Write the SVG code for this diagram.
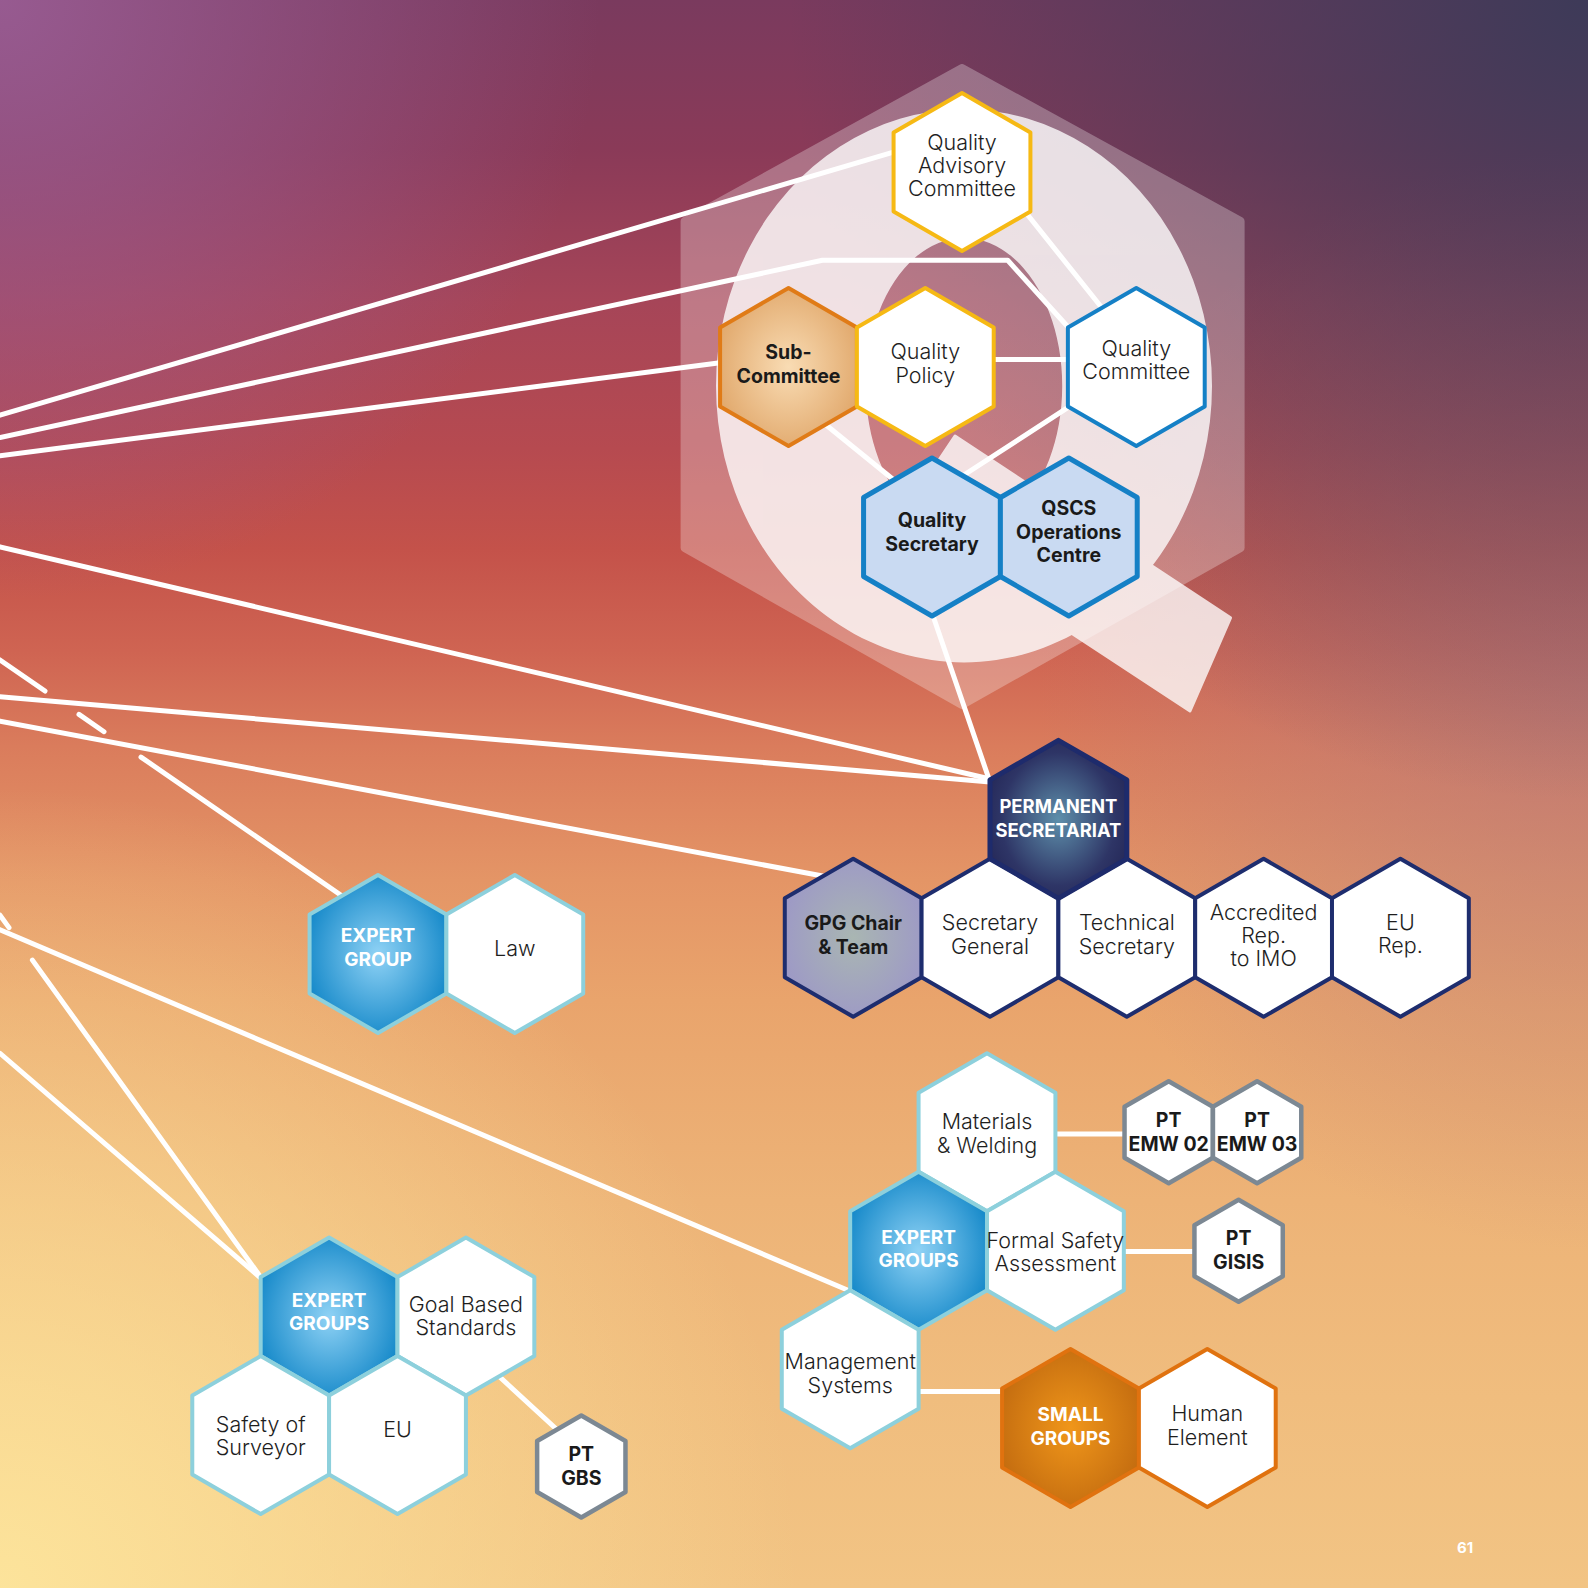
<svg xmlns="http://www.w3.org/2000/svg" xmlns:xlink="http://www.w3.org/1999/xlink" width="1588" height="1588" viewBox="0 0 1588 1588">
<defs>
<linearGradient id="bgBase" x1="0" y1="0" x2="0" y2="1">
<stop offset="0" stop-color="#7A3A5E"/>
<stop offset="0.094" stop-color="#8A3A58"/>
<stop offset="0.19" stop-color="#A64558"/>
<stop offset="0.283" stop-color="#B64A50"/>
<stop offset="0.346" stop-color="#C4524A"/>
<stop offset="0.41" stop-color="#CF6452"/>
<stop offset="0.47" stop-color="#DA7C5C"/>
<stop offset="0.554" stop-color="#E49566"/>
<stop offset="0.63" stop-color="#E9A46C"/>
<stop offset="0.756" stop-color="#EDB377"/>
<stop offset="0.88" stop-color="#F0BD7E"/>
<stop offset="1" stop-color="#F2C484"/>
</linearGradient>
<radialGradient id="bgTL" cx="0" cy="0" r="600" gradientUnits="userSpaceOnUse">
<stop offset="0" stop-color="#9A5E96" stop-opacity="0.9"/>
<stop offset="1" stop-color="#9A5E96" stop-opacity="0"/>
</radialGradient>
<radialGradient id="bgTR" cx="1588" cy="0" r="800" gradientUnits="userSpaceOnUse">
<stop offset="0" stop-color="#3A3A58" stop-opacity="0.95"/>
<stop offset="1" stop-color="#3A3A58" stop-opacity="0"/>
</radialGradient>
<radialGradient id="bgBL" cx="0" cy="1588" r="800" gradientUnits="userSpaceOnUse">
<stop offset="0" stop-color="#FDE59C" stop-opacity="0.95"/>
<stop offset="1" stop-color="#FDE59C" stop-opacity="0"/>
</radialGradient>
<radialGradient id="bgR" cx="1588" cy="700" r="550" gradientUnits="userSpaceOnUse">
<stop offset="0" stop-color="#B27A80" stop-opacity="0.6"/>
<stop offset="1" stop-color="#B27A80" stop-opacity="0"/>
</radialGradient>
<radialGradient id="gSub" cx="0.5" cy="0.5" r="0.6">
<stop offset="0" stop-color="#F9DCB4"/>
<stop offset="1" stop-color="#DFA466"/>
</radialGradient>
<radialGradient id="gPerm" cx="0.5" cy="0.5" r="0.6">
<stop offset="0" stop-color="#5E8FAA"/>
<stop offset="0.7" stop-color="#2E3566"/>
<stop offset="1" stop-color="#232656"/>
</radialGradient>
<radialGradient id="gGpg" cx="0.5" cy="0.5" r="0.6">
<stop offset="0" stop-color="#A9B6B2"/>
<stop offset="1" stop-color="#9C96C8"/>
</radialGradient>
<radialGradient id="gExpert" cx="0.5" cy="0.5" r="0.6">
<stop offset="0" stop-color="#8FD2F5"/>
<stop offset="1" stop-color="#0A82C5"/>
</radialGradient>
<radialGradient id="gSmall" cx="0.5" cy="0.5" r="0.6">
<stop offset="0" stop-color="#F0961A"/>
<stop offset="1" stop-color="#C0690F"/>
</radialGradient>
<path id="hex" d="M0,-79 L68.42,-39.5 L68.42,39.5 L0,79 L-68.42,39.5 L-68.42,-39.5 Z"/>
<path id="hexS" d="M0,-51 L44.17,-25.5 L44.17,25.5 L0,51 L-44.17,25.5 L-44.17,-25.5 Z"/>
<style>
.h{stroke-width:4;stroke-linejoin:round}
.gold{fill:#FFFFFF;stroke:#F6B914}
.sub{fill:url(#gSub);stroke:#E07B17}
.qblue{fill:#FFFFFF;stroke:#1580C6}
.qsec{fill:#C9DAF2;stroke:#1580C6;stroke-width:5}
.perm{fill:url(#gPerm);stroke:#1E2B6C;stroke-width:5}
.gpg{fill:url(#gGpg);stroke:#1E2D6E}
.navy{fill:#FFFFFF;stroke:#1E2D6E}
.exp{fill:url(#gExpert);stroke:#8DD0DC}
.lb{fill:#FFFFFF;stroke:#8DD0DC}
.small{fill:url(#gSmall);stroke:#E0720F}
.org{fill:#FFFFFF;stroke:#E0720F}
.pt{fill:#FFFFFF;stroke:#7C8893;stroke-width:4.5}
text{font-family:Inter,"Noto Sans","Liberation Sans",sans-serif;text-anchor:middle}
.t{font-size:21.5px;font-weight:300;fill:#1E1E1E}
.b{font-size:19.5px;font-weight:700;fill:#1A1A1A}
.w{font-size:19px;font-weight:700;fill:#FFFFFF}
.c{fill:none;stroke:#FFFFFF;stroke-width:5;stroke-linecap:round;stroke-linejoin:round}
</style>
</defs>
<g id="background">
<rect width="1588" height="1588" fill="url(#bgBase)"/>
<rect width="1588" height="1588" fill="url(#bgR)"/>
<rect width="1588" height="1588" fill="url(#bgTL)"/>
<rect width="1588" height="1588" fill="url(#bgTR)"/>
<rect width="1588" height="1588" fill="url(#bgBL)"/>
</g>
<g id="q-emblem">
<g opacity="0.28">
<polygon points="962,68 1240.6,221 1240.6,548 962,705 684.6,548 684.6,221" fill="#FFFFFF" stroke="#FFFFFF" stroke-width="8" stroke-linejoin="round"/>
</g>
<g opacity="0.78" fill="#FFFFFF">
<path fill-rule="evenodd" d="M964,109.4 a248,276.5 0 1,0 0.01,0 Z M964,237.9 a98.2,148 0 1,0 0.01,0 Z"/>
<polygon points="955,436 1230.5,617.8 1190,711 899,520" stroke="#FFFFFF" stroke-width="3" stroke-linejoin="round"/>
</g>
</g>
<g id="connectors">
<line class="c" x1="894.3" y1="151.9" x2="0" y2="415.2"/>
<polyline class="c" points="0,437.5 822.4,260.3 1007.7,260.3 1068,327"/>
<line class="c" x1="722" y1="362.6" x2="0" y2="455.7"/>
<line class="c" x1="1015" y1="199" x2="1110" y2="318"/>
<line class="c" x1="980" y1="359.5" x2="1080" y2="359.5"/>
<line class="c" x1="1080" y1="399.7" x2="950" y2="484"/>
<line class="c" x1="815" y1="416" x2="900" y2="485"/>
<line class="c" x1="931.7" y1="612" x2="990" y2="782"/>
<line class="c" x1="0" y1="546.9" x2="990" y2="779"/>
<line class="c" x1="0" y1="696.8" x2="990" y2="782"/>
<line class="c" x1="0" y1="721.1" x2="824" y2="876.3"/>
<line class="c" x1="0" y1="660" x2="45" y2="691"/>
<line class="c" x1="79" y1="714.4" x2="104" y2="731.7"/>
<line class="c" x1="141" y1="757.1" x2="345" y2="898"/>
<line class="c" x1="0" y1="929.7" x2="852" y2="1292"/>
<line class="c" x1="0" y1="915.1" x2="9" y2="927.6"/>
<line class="c" x1="32.4" y1="960.1" x2="262" y2="1279"/>
<line class="c" x1="0" y1="1053.3" x2="262" y2="1279"/>
<line class="c" x1="490" y1="1368" x2="565" y2="1437"/>
<line class="c" x1="1040" y1="1134" x2="1130" y2="1134"/>
<line class="c" x1="1100" y1="1251.5" x2="1210" y2="1251.5"/>
<line class="c" x1="900" y1="1391.5" x2="1020" y2="1391.5"/>
</g>
<g id="node-quality-advisory-committee" transform="translate(962,172)">
<use href="#hex" class="h gold"/>
<text class="t"><tspan x="0" y="-22">Quality</tspan><tspan x="0" y="1">Advisory</tspan><tspan x="0" y="24">Committee</tspan></text>
</g>
<g id="node-sub-committee" transform="translate(788.5,367)">
<use href="#hex" class="h sub"/>
<text class="b"><tspan x="0" y="-8">Sub-</tspan><tspan x="0" y="16">Committee</tspan></text>
</g>
<g id="node-quality-policy" transform="translate(925.3,367)">
<use href="#hex" class="h gold"/>
<text class="t"><tspan x="0" y="-8">Quality</tspan><tspan x="0" y="16">Policy</tspan></text>
</g>
<g id="node-quality-committee" transform="translate(1136.3,367)">
<use href="#hex" class="h qblue"/>
<text class="t"><tspan x="0" y="-11">Quality</tspan><tspan x="0" y="12">Committee</tspan></text>
</g>
<g id="node-quality-secretary" transform="translate(932,537)">
<use href="#hex" class="h qsec"/>
<text class="b"><tspan x="0" y="-10">Quality</tspan><tspan x="0" y="14">Secretary</tspan></text>
</g>
<g id="node-qscs-operations-centre" transform="translate(1068.8,537)">
<use href="#hex" class="h qsec"/>
<text class="b"><tspan x="0" y="-22">QSCS</tspan><tspan x="0" y="2">Operations</tspan><tspan x="0" y="25">Centre</tspan></text>
</g>
<g id="node-gpg-chair" transform="translate(853.2,937.8)">
<use href="#hex" class="h gpg"/>
<text class="b"><tspan x="0" y="-8">GPG Chair</tspan><tspan x="0" y="16">&amp; Team</tspan></text>
</g>
<g id="node-secretary-general" transform="translate(990,937.8)">
<use href="#hex" class="h navy"/>
<text class="t"><tspan x="0" y="-8">Secretary</tspan><tspan x="0" y="16">General</tspan></text>
</g>
<g id="node-technical-secretary" transform="translate(1126.8,937.8)">
<use href="#hex" class="h navy"/>
<text class="t"><tspan x="0" y="-8">Technical</tspan><tspan x="0" y="16">Secretary</tspan></text>
</g>
<g id="node-accredited-rep" transform="translate(1263.6,937.8)">
<use href="#hex" class="h navy"/>
<text class="t"><tspan x="0" y="-18">Accredited</tspan><tspan x="0" y="5">Rep.</tspan><tspan x="0" y="28">to IMO</tspan></text>
</g>
<g id="node-eu-rep" transform="translate(1400.4,937.8)">
<use href="#hex" class="h navy"/>
<text class="t"><tspan x="0" y="-8">EU</tspan><tspan x="0" y="15">Rep.</tspan></text>
</g>
<g id="node-permanent-secretariat" transform="translate(1058.4,819.3)">
<use href="#hex" class="h perm"/>
<text class="w"><tspan x="0" y="-6" textLength="118" lengthAdjust="spacingAndGlyphs">PERMANENT</tspan><tspan x="0" y="18" textLength="126" lengthAdjust="spacingAndGlyphs">SECRETARIAT</tspan></text>
</g>
<g id="node-expert-group-law" transform="translate(378,954)">
<use href="#hex" class="h exp"/>
<text class="w"><tspan x="0" y="-12">EXPERT</tspan><tspan x="0" y="12">GROUP</tspan></text>
</g>
<g id="node-law" transform="translate(514.8,954)">
<use href="#hex" class="h lb"/>
<text class="t" x="0" y="2">Law</text>
</g>
<g id="node-materials-welding" transform="translate(987,1132.3)">
<use href="#hex" class="h lb"/>
<text class="t"><tspan x="0" y="-3">Materials</tspan><tspan x="0" y="21">&amp; Welding</tspan></text>
</g>
<g id="node-expert-groups-right" transform="translate(918.6,1250.8)">
<use href="#hex" class="h exp"/>
<text class="w"><tspan x="0" y="-7">EXPERT</tspan><tspan x="0" y="16">GROUPS</tspan></text>
</g>
<g id="node-formal-safety-assessment" transform="translate(1055.4,1250.8)">
<use href="#hex" class="h lb"/>
<text class="t"><tspan x="0" y="-3">Formal Safety</tspan><tspan x="0" y="20">Assessment</tspan></text>
</g>
<g id="node-management-systems" transform="translate(850.2,1369.3)">
<use href="#hex" class="h lb"/>
<text class="t"><tspan x="0" y="0">Management</tspan><tspan x="0" y="24">Systems</tspan></text>
</g>
<g id="node-small-groups" transform="translate(1070.5,1428)">
<use href="#hex" class="h small"/>
<text class="w"><tspan x="0" y="-7">SMALL</tspan><tspan x="0" y="17">GROUPS</tspan></text>
</g>
<g id="node-human-element" transform="translate(1207.3,1428)">
<use href="#hex" class="h org"/>
<text class="t"><tspan x="0" y="-7">Human</tspan><tspan x="0" y="17">Element</tspan></text>
</g>
<g id="node-expert-groups-left" transform="translate(329.1,1316.6)">
<use href="#hex" class="h exp"/>
<text class="w"><tspan x="0" y="-10">EXPERT</tspan><tspan x="0" y="13">GROUPS</tspan></text>
</g>
<g id="node-goal-based-standards" transform="translate(465.9,1316.6)">
<use href="#hex" class="h lb"/>
<text class="t"><tspan x="0" y="-5">Goal Based</tspan><tspan x="0" y="18">Standards</tspan></text>
</g>
<g id="node-safety-of-surveyor" transform="translate(260.7,1435.1)">
<use href="#hex" class="h lb"/>
<text class="t"><tspan x="0" y="-3">Safety of</tspan><tspan x="0" y="20">Surveyor</tspan></text>
</g>
<g id="node-eu" transform="translate(397.5,1435.1)">
<use href="#hex" class="h lb"/>
<text class="t" x="0" y="2">EU</text>
</g>
<g id="node-pt-gbs" transform="translate(581.3,1466.5)">
<use href="#hexS" class="h pt"/>
<text class="b"><tspan x="0" y="-6">PT</tspan><tspan x="0" y="18">GBS</tspan></text>
</g>
<g id="node-pt-emw-02" transform="translate(1168.7,1132.3)">
<use href="#hexS" class="h pt"/>
<text class="b"><tspan x="0" y="-5">PT</tspan><tspan x="0" y="19">EMW 02</tspan></text>
</g>
<g id="node-pt-emw-03" transform="translate(1257.1,1132.3)">
<use href="#hexS" class="h pt"/>
<text class="b"><tspan x="0" y="-5">PT</tspan><tspan x="0" y="19">EMW 03</tspan></text>
</g>
<g id="node-pt-gisis" transform="translate(1238.6,1250.8)">
<use href="#hexS" class="h pt"/>
<text class="b"><tspan x="0" y="-6">PT</tspan><tspan x="0" y="18">GISIS</tspan></text>
</g>
<text id="page-number" x="1465" y="1553" style="font-size:15px;font-weight:700;fill:#FFFFFF">61</text>
</svg>
